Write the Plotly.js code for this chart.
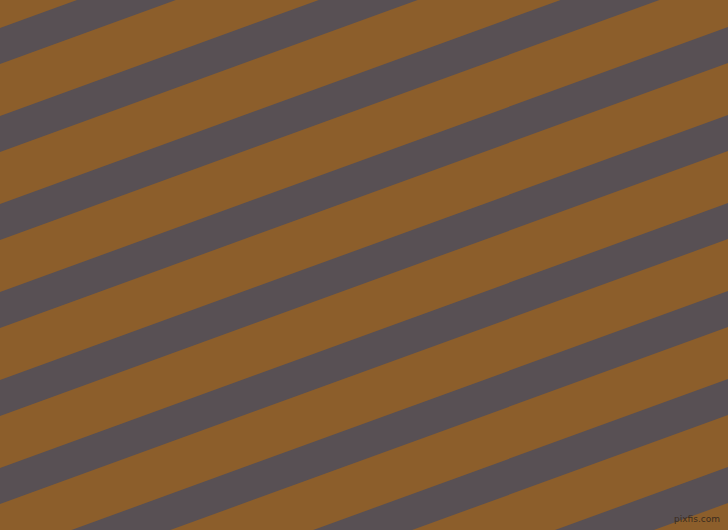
<!DOCTYPE html>
<html>
<head>
<meta charset="utf-8">
<script src="https://cdn.plot.ly/plotly-3.0.1.min.js"></script>
<style>
  html, body { margin: 0; padding: 0; background: #8C5E2B; }
  #chart { width: 728px; height: 530px; }
</style>
</head>
<body>
<div id="chart"></div>
<script>
// y where each gray band's upper edge meets the left side
const bandStarts = [28, 116, 204, 292, 380, 468, 556, 644, 732];
// sample x positions across the width
const edgeX = [0, 728];

const W = 728, H = 530;
const slope = Math.tan(20 * Math.PI / 180);   // bands rise ~20 degrees
const bandHeight = 36;                         // vertical thickness of a gray band
const brown = "#8C5E2B";
const gray = "#585054";

const traces = bandStarts.map(y0 => {
    const top = edgeX.map(x => y0 - slope * x);
    const bottom = edgeX.map(x => y0 - slope * x + bandHeight);
    return {
        type: "scatter",
        mode: "lines",
        x: edgeX.concat(edgeX.slice().reverse()),
        y: top.concat(bottom.slice().reverse()),
        fill: "toself",
        fillcolor: gray,
        line: {width: 0, color: gray},
        hoverinfo: "skip",
        showlegend: false
    };
});

const layout = {
    width: W,
    height: H,
    margin: {t: 0, b: 0, l: 0, r: 0},
    paper_bgcolor: brown,
    plot_bgcolor: brown,
    xaxis: {range: [0, W], visible: false, fixedrange: true},
    yaxis: {range: [H, 0], visible: false, fixedrange: true},
    annotations: [{
        text: "pixfis.com",
        xref: "paper", yref: "paper",
        x: 0.992, y: 0.008,
        xanchor: "right", yanchor: "bottom",
        showarrow: false,
        font: {family: "DejaVu Sans", size: 9, color: "#3b2c1e"}
    }]
};

Plotly.newPlot("chart", traces, layout, {staticPlot: true, displayModeBar: false});
</script>
</body>
</html>
